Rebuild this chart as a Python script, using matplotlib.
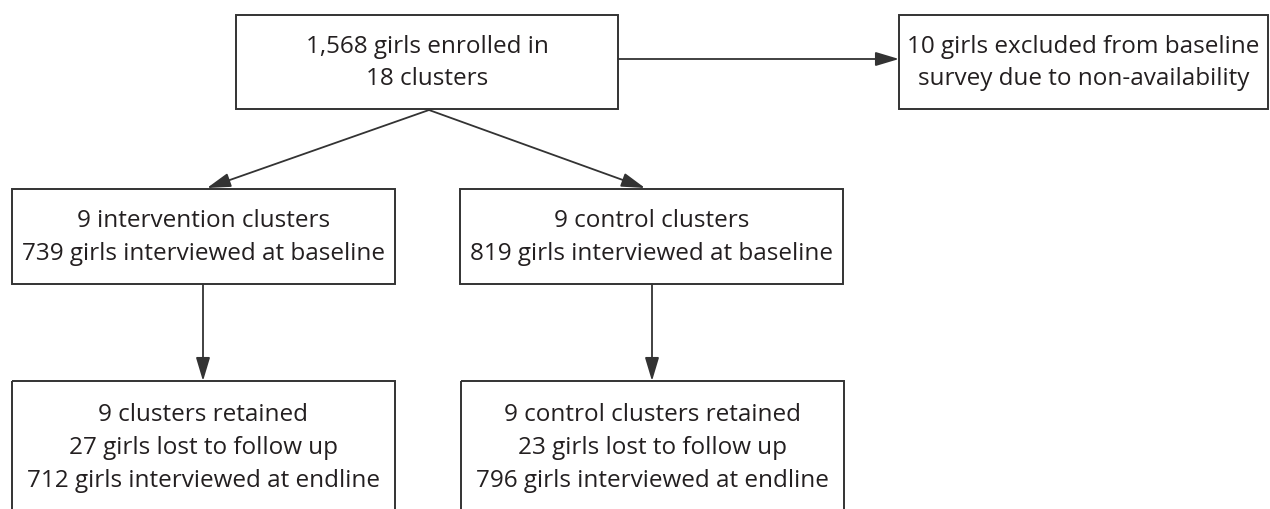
import matplotlib.pyplot as plt
from matplotlib.patches import Rectangle

plt.rcParams['font.family'] = ['Open Sans', 'DejaVu Sans']

# box texts
top_text = "1,568 girls enrolled in\n18 clusters"
excluded_text = "10 girls excluded from baseline\nsurvey due to non-availability"
arm_text = ["9 intervention clusters\n739 girls interviewed at baseline",
            "9 control clusters\n819 girls interviewed at baseline"]
end_text = ["9 clusters retained\n27 girls lost to follow up\n712 girls interviewed at endline",
            "9 control clusters retained\n23 girls lost to follow up\n796 girls interviewed at endline"]

# layout in pixels (x0, y0, x1, y1)
boxes = {
    'top': (236, 16, 618, 110),
    'excl': (899, 16, 1268, 110),
    'arm0': (12, 190, 395, 285),
    'arm1': (460, 190, 843, 285),
    'end0': (12, 382, 395, 530),
    'end1': (461, 382, 844, 530),
}
ink = '#231f20'

fig = plt.figure(figsize=(12.7, 5.1), dpi=100)
ax = fig.add_axes([0, 0, 1, 1])
ax.set_xlim(0, 1270)
ax.set_ylim(510, 0)
ax.axis('off')


def draw_box(key, text, ty=None):
    x0, y0, x1, y1 = boxes[key]
    ax.add_patch(Rectangle((x0, y0), x1 - x0, y1 - y0, fill=False,
                           edgecolor='#333333', linewidth=1.4))
    if ty is None:
        ty = (y0 + y1) / 2
    ax.text((x0 + x1) / 2, ty, text, ha='center', va='center',
            fontsize=17.5, color=ink, linespacing=1.48)


def arrow(x0, y0, x1, y1):
    ax.annotate('', xy=(x1, y1), xytext=(x0, y0),
                arrowprops=dict(arrowstyle='-|>,head_length=0.6,head_width=0.18',
                                color='#333333', lw=1.3,
                                mutation_scale=24, shrinkA=0, shrinkB=0))


draw_box('top', top_text)
draw_box('excl', excluded_text)
for i in range(2):
    draw_box('arm%d' % i, arm_text[i])
    draw_box('end%d' % i, end_text[i], ty=448)

arrow(618, 60, 899, 60)
arrow(429, 111, 207, 189)
arrow(429, 111, 645, 189)
arrow(203, 285, 203, 382)
arrow(652, 285, 652, 382)

fig.savefig('out.png', dpi=100)
